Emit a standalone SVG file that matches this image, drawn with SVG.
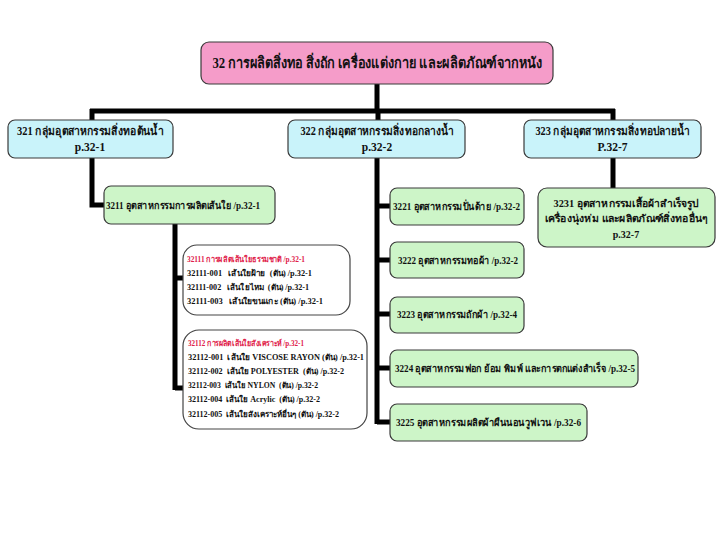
<svg xmlns="http://www.w3.org/2000/svg" width="720" height="540" viewBox="0 0 720 540">
<style>
.bx{stroke:#3a3a3a;stroke-width:1.2}
.pink{fill:#f59cc9}
.cyan{fill:#c9f3fa}
.green{fill:#cdf5c8}
.white{fill:#ffffff;stroke:#444;stroke-width:1.2}
text{font-family:"Liberation Serif","DejaVu Serif",serif;font-weight:bold;fill:#111}
.t1{font-size:15px}
.t2{font-size:11.5px}
.t3{font-size:10px}
.t4{font-size:8px}
.red{fill:#e0204a}
.c{text-anchor:middle}
.ln{fill:none;stroke:#000;stroke-width:5}
</style>
<rect width="720" height="540" fill="#ffffff"/>
<g id="connectors">
<path class="ln" d="M377,84 V111 M90,111 H615 M92,109 V121 M378,109 V121 M613,109 V121"/>
<path class="ln" d="M92,157 V205 H105"/>
<path class="ln" d="M175,224 V390 M175,278 H184 M175,388 H184"/>
<path class="ln" d="M377,157 V424 M377,206 H391 M377,260 H391 M377,314 H391 M377,368 H391 M377,422 H391"/>
<path class="ln" d="M613,157 V188"/>
</g>
<g id="n32">
<rect class="bx pink" x="201" y="42" width="352" height="42" rx="8"/>
<text class="t1 c" x="377" y="68" textLength="329" lengthAdjust="spacingAndGlyphs">32 การผลิตสิ่งทอ สิ่งถัก เครื่องแต่งกาย และผลิตภัณฑ์จากหนัง</text>
</g>
<g id="n321">
<rect class="bx cyan" x="8" y="120" width="165" height="38" rx="7"/>
<text class="t2 c" x="90" y="135" textLength="146" lengthAdjust="spacingAndGlyphs">321 กลุ่มอุตสาหกรรมสิ่งทอต้นน้ำ</text>
<text class="t2 c" x="90" y="151">p.32-1</text>
</g>
<g id="n322">
<rect class="bx cyan" x="288" y="120" width="177" height="38" rx="7"/>
<text class="t2 c" x="377" y="135" textLength="153" lengthAdjust="spacingAndGlyphs">322 กลุ่มอุตสาหกรรมสิ่งทอกลางน้ำ</text>
<text class="t2 c" x="377" y="151">p.32-2</text>
</g>
<g id="n323">
<rect class="bx cyan" x="524" y="120" width="177" height="38" rx="7"/>
<text class="t2 c" x="612.5" y="135" textLength="154" lengthAdjust="spacingAndGlyphs">323 กลุ่มอุตสาหกรรมสิ่งทอปลายน้ำ</text>
<text class="t2 c" x="612.5" y="151">P.32-7</text>
</g>
<g id="n3211">
<rect class="bx green" x="104" y="186" width="171" height="38" rx="7"/>
<text class="t3" x="106" y="209" textLength="154" lengthAdjust="spacingAndGlyphs">3211 อุตสาหกรรมการผลิตเส้นใย /p.32-1</text>
</g>
<g id="n3221">
<rect class="bx green" x="390" y="188" width="134" height="37" rx="7"/>
<text class="t3" x="393" y="210" textLength="127" lengthAdjust="spacingAndGlyphs">3221 อุตสาหกรรมปั่นด้าย /p.32-2</text>
</g>
<g id="n3222">
<rect class="bx green" x="390" y="242" width="134" height="36" rx="7"/>
<text class="t3" x="398" y="264" textLength="120" lengthAdjust="spacingAndGlyphs">3222 อุตสาหกรรมทอผ้า /p.32-2</text>
</g>
<g id="n3223">
<rect class="bx green" x="390" y="297" width="134" height="36" rx="7"/>
<text class="t3" x="397" y="318" textLength="120" lengthAdjust="spacingAndGlyphs">3223 อุตสาหกรรมถักผ้า /p.32-4</text>
</g>
<g id="n3224">
<rect class="bx green" x="390" y="350" width="248" height="37" rx="7"/>
<text class="t3" x="395" y="372" textLength="240" lengthAdjust="spacingAndGlyphs">3224 อุตสาหกรรมฟอก ย้อม พิมพ์ และการตกแต่งสำเร็จ /p.32-5</text>
</g>
<g id="n3225">
<rect class="bx green" x="390" y="404" width="197" height="37" rx="7"/>
<text class="t3" x="396" y="426" textLength="185" lengthAdjust="spacingAndGlyphs">3225 อุตสาหกรรมผลิตผ้าผืนนอนวูฟเวน /p.32-6</text>
</g>
<g id="n3231">
<rect class="bx green" x="538" y="188" width="177" height="59" rx="9"/>
<text class="t3 c" x="626" y="207" textLength="145" lengthAdjust="spacingAndGlyphs">3231 อุตสาหกรรมเสื้อผ้าสำเร็จรูป</text>
<text class="t3 c" x="626" y="222" textLength="163" lengthAdjust="spacingAndGlyphs">เครื่องนุ่งห่ม และผลิตภัณฑ์สิ่งทออื่นๆ</text>
<text class="t3 c" x="626" y="238">p.32-7</text>
</g>
<g id="n32111">
<rect class="white" x="183" y="245" width="167" height="70" rx="14"/>
<text class="t4 red" x="187" y="262" textLength="118" lengthAdjust="spacingAndGlyphs">32111 การผลิตเส้นใยธรรมชาติ /p.32-1</text>
<text class="t4" x="187" y="276" textLength="125" lengthAdjust="spacingAndGlyphs" xml:space="preserve">32111-001   เส้นใยฝ้าย  (ตัน) /p.32-1</text>
<text class="t4" x="187" y="290" textLength="122" lengthAdjust="spacingAndGlyphs" xml:space="preserve">32111-002   เส้นใยไหม  (ตัน) /p.32-1</text>
<text class="t4" x="187" y="304" textLength="136" lengthAdjust="spacingAndGlyphs" xml:space="preserve">32111-003   เส้นใยขนแกะ (ตัน) /p.32-1</text>
</g>
<g id="n32112">
<rect class="white" x="183" y="330" width="184" height="99" rx="16"/>
<text class="t4 red" x="188" y="346" textLength="116" lengthAdjust="spacingAndGlyphs">32112 การผลิตเส้นใยสังเคราะห์ /p.32-1</text>
<text class="t4" x="188" y="360" textLength="176" lengthAdjust="spacingAndGlyphs" xml:space="preserve">32112-001  เส้นใย VISCOSE RAYON (ตัน) /p.32-1</text>
<text class="t4" x="188" y="374" textLength="156" lengthAdjust="spacingAndGlyphs" xml:space="preserve">32112-002  เส้นใย POLYESTER  (ตัน) /p.32-2</text>
<text class="t4" x="188" y="388" textLength="130" lengthAdjust="spacingAndGlyphs" xml:space="preserve">32112-003  เส้นใย NYLON  (ตัน) /p.32-2</text>
<text class="t4" x="188" y="402" textLength="132" lengthAdjust="spacingAndGlyphs" xml:space="preserve">32112-004  เส้นใย Acrylic  (ตัน) /p.32-2</text>
<text class="t4" x="188" y="417" textLength="151" lengthAdjust="spacingAndGlyphs" xml:space="preserve">32112-005  เส้นใยสังเคราะห์อื่นๆ (ตัน) /p.32-2</text>
</g>
</svg>
